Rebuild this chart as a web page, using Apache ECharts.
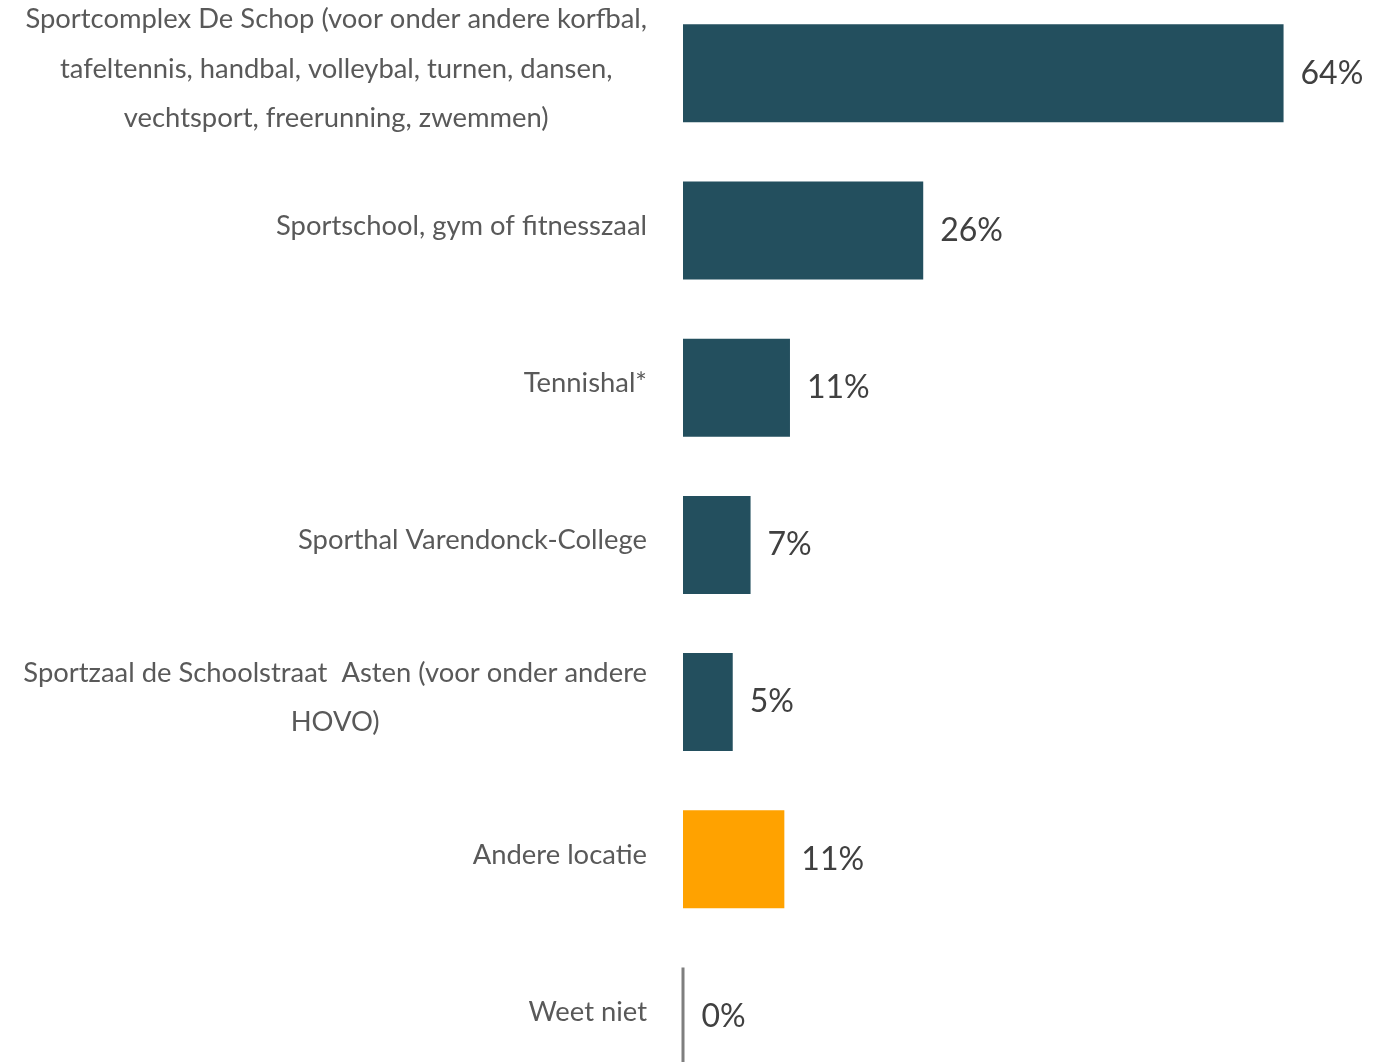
<!DOCTYPE html>
<html>
<head>
<meta charset="utf-8">
<script src="https://cdn.jsdelivr.net/npm/echarts@6/dist/echarts.min.js"></script>
<style>
html,body{margin:0;padding:0;background:#fff;}
#chart{width:1388px;height:1062px;}
</style>
</head>
<body>
<div id="chart"></div>
<script>
const categories = [
  "Sportcomplex De Schop (voor onder andere korfbal,\ntafeltennis, handbal, volleybal, turnen, dansen,\nvechtsport, freerunning, zwemmen)",
  "Sportschool, gym of fitnesszaal",
  "Tennishal*",
  "Sporthal Varendonck-College",
  "Sportzaal de Schoolstraat  Asten (voor onder andere\nHOVO)",
  "Andere locatie",
  "Weet niet"
];
const values = [64.0, 25.6, 11.4, 7.2, 5.3, 10.8, 0];
const barColors = ["#234F5E", "#234F5E", "#234F5E", "#234F5E", "#234F5E", "#FFA200", "#234F5E"];

const chart = echarts.init(document.getElementById('chart'));
chart.setOption({
  animation: false,
  backgroundColor: '#ffffff',
  grid: { left: 683, right: 0, top: -5.3, height: 1100.4, containLabel: false, outerBoundsMode: 'none' },
  xAxis: {
    type: 'value', min: 0, max: 75.13, show: false
  },
  yAxis: {
    type: 'category', data: categories, inverse: true,
    axisLine: { show: false }, axisTick: { show: false }, splitLine: { show: false },
    axisLabel: {
      margin: 36,
      align: 'right',
      padding: [0, 0, 9, 0],
      formatter: v => v.split('\n').map(l => '{c|' + l + '}').join('\n'),
      rich: {
        c: { align: 'center', fontFamily: 'Lato', fontSize: 27.4, lineHeight: 49.5, color: '#595959' }
      }
    }
  },
  series: [{
    type: 'bar',
    barWidth: 98,
    data: values.map((v, i) => ({
      value: v,
      itemStyle: i === values.length - 1
        ? { color: '#7F7F7F', borderColor: '#7F7F7F', borderWidth: 3 }
        : { color: barColors[i] }
    })),
    label: {
      show: true, position: 'right', distance: 17,
      formatter: p => Math.round(p.value) + '%',
      fontFamily: 'Lato', fontSize: 32, color: '#404040'
    }
  }]
});
</script>
</body>
</html>
